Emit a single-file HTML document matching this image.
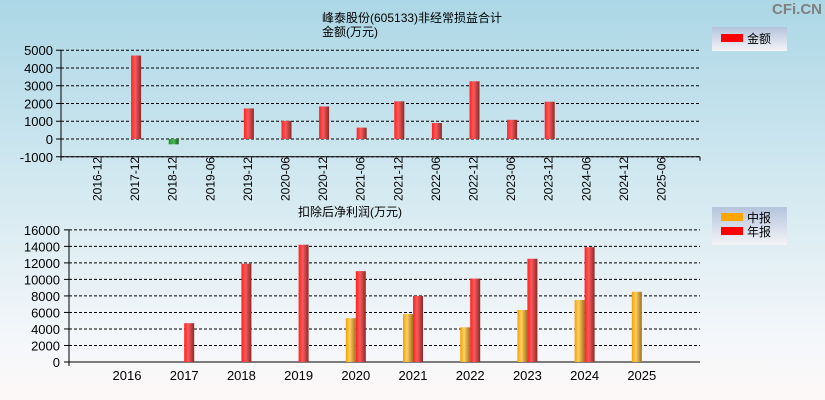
<!DOCTYPE html>
<html><head><meta charset="utf-8"><style>
html,body{margin:0;padding:0;background:#f8f8fa}
body{width:825px;height:400px;overflow:hidden;background:linear-gradient(#acd7e6 0%,#d6eaf1 50%,#f4f7fa 85%,#fdf8f8 100%);font-family:"Liberation Sans","Noto Sans CJK SC",sans-serif}
svg{display:block}
svg text{font-family:"Liberation Sans","Noto Sans CJK SC",sans-serif}
</style></head><body>
<svg id="c" width="825" height="400" xmlns="http://www.w3.org/2000/svg">
<defs>
<linearGradient id="gr" x1="0" x2="1"><stop offset="0" stop-color="#ff2020"/><stop offset="0.4" stop-color="#ff5a5a"/><stop offset="1" stop-color="#8a2a2a"/></linearGradient>
<linearGradient id="gg" x1="0" x2="1"><stop offset="0" stop-color="#1f8a2a"/><stop offset="0.5" stop-color="#4cbb55"/><stop offset="1" stop-color="#1a5a20"/></linearGradient>
<linearGradient id="go" x1="0" x2="1"><stop offset="0" stop-color="#f5a000"/><stop offset="0.4" stop-color="#ffd060"/><stop offset="1" stop-color="#a07020"/></linearGradient>
<linearGradient id="lg" x1="0" y1="0" x2="0" y2="1"><stop offset="0" stop-color="#b4c4dc"/><stop offset="1" stop-color="#f4f4f8"/></linearGradient>
</defs>
<text x="822" y="14" text-anchor="end" font-size="15" font-weight="bold" fill="#808080">CFi.CN</text>
<text x="322" y="22" font-size="12">峰泰股份(605133)非经常损益合计</text>
<text x="322" y="36" font-size="12">金额(万元)</text>
<text x="298" y="216" font-size="12">扣除后净利润(万元)</text>
<g id="top"></g><g id="bot"></g>
<g>
<rect x="712" y="27" width="75" height="24" fill="url(#lg)"/>
<rect x="721" y="34" width="22" height="8" fill="#ff0000"/>
<text x="747" y="43" font-size="12">金额</text></g>
<g>
<rect x="712" y="207" width="75" height="38" fill="url(#lg)"/>
<rect x="721" y="213" width="22" height="8" fill="#ffa500"/>
<text x="747" y="222" font-size="12">中报</text>
<rect x="721" y="227" width="22" height="8" fill="#ff0000"/>
<text x="747" y="236" font-size="12">年报</text></g>
</svg>
<script>
const topCats=["2016-12","2017-12","2018-12","2019-06","2019-12","2020-06","2020-12","2021-06","2021-12","2022-06","2022-12","2023-06","2023-12","2024-06","2024-12","2025-06"];
const topVals=[null,4700,-300,null,1720,1020,1830,640,2120,900,3250,1080,2100,null,null,null];
const topTicks=[5000,4000,3000,2000,1000,0,-1000];
const botCats=["2016","2017","2018","2019","2020","2021","2022","2023","2024","2025"];
const botInterim=[null,null,null,null,5300,5800,4200,6300,7500,8500];
const botAnnual=[null,4700,11900,14200,11000,8000,10100,12500,13900,null];
const botTicks=[16000,14000,12000,10000,8000,6000,4000,2000,0];
const NS="http://www.w3.org/2000/svg";
function mk(p,t,a){const e=document.createElementNS(NS,t);for(const k in a)e.setAttribute(k,a[k]);p.appendChild(e);return e;}
const T=document.getElementById('top');
const ty=v=>139-(v)*0.01776;
const tx=i=>98.5+(i)*37.6;
topTicks.forEach(v=>{
 const y=ty(v);
 const l=mk(T,'line',{x1:61,x2:700,y1:y,y2:y,stroke:'#000','stroke-dasharray':'3,2','stroke-width':1});
 
 
 mk(T,'line',{x1:56,x2:61,y1:y,y2:y,stroke:'#000'});
 const t=mk(T,'text',{x:53,y:y+5,'text-anchor':'end','font-size':13});t.textContent=v;
 
 
});
mk(T,'line',{x1:61,x2:61,y1:ty(5000),y2:ty(-1000),stroke:'#000'});
mk(T,'line',{x1:61,x2:700,y1:ty(-1000),y2:ty(-1000),stroke:'#000'});
mk(T,'line',{x1:61,x2:61,y1:ty(-1000),y2:ty(-1000)+4,stroke:'#000'});
mk(T,'line',{x1:700,x2:700,y1:ty(-1000),y2:ty(-1000)+4,stroke:'#000'});
topCats.forEach((c,i)=>{
 const x=tx(i);
 const t=mk(T,'text',{transform:`translate(${x+3},201) rotate(-90)`,'font-size':12});t.textContent=c;
 
 
 const v=topVals[i];
 if(v==null)return;
 const y0=ty(0),y1=ty(v);
 const r=mk(T,'rect',{x:x-5,y:Math.min(y0,y1),width:10,height:Math.max(1,Math.abs(y1-y0)),fill:v<0?'url(#gg)':'url(#gr)'});
 
 
});
const B=document.getElementById('bot');
const by=v=>362-v*0.00826;
const bx=i=>127+i*57.2;
botTicks.forEach(v=>{
 const y=by(v);
 const l=mk(B,'line',{x1:69,x2:700,y1:y,y2:y,stroke:'#000','stroke-dasharray':'3,2'});
 
 
 mk(B,'line',{x1:64,x2:69,y1:y,y2:y,stroke:'#000'});
 const t=mk(B,'text',{x:60,y:y+5,'text-anchor':'end','font-size':13});t.textContent=v;
 
 
});
mk(B,'line',{x1:69,x2:69,y1:by(16000),y2:by(0)+4,stroke:'#000'});
mk(B,'line',{x1:69,x2:700,y1:by(0),y2:by(0),stroke:'#000'});
botCats.forEach((c,i)=>{
 const x=bx(i);
 const t=mk(B,'text',{x:x,y:380,'text-anchor':'middle','font-size':13});t.textContent=c;
 
 
 if(botInterim[i]!=null){
  const y=by(botInterim[i]);
  const r=mk(B,'rect',{x:x-10,y:y,width:10,height:by(0)-y,fill:'url(#go)'});
  
  
 }
 if(botAnnual[i]!=null){
  const y=by(botAnnual[i]);
  const r=mk(B,'rect',{x:x,y:y,width:10,height:by(0)-y,fill:'url(#gr)'});
  
  
 }
});
</script>
</body></html>
